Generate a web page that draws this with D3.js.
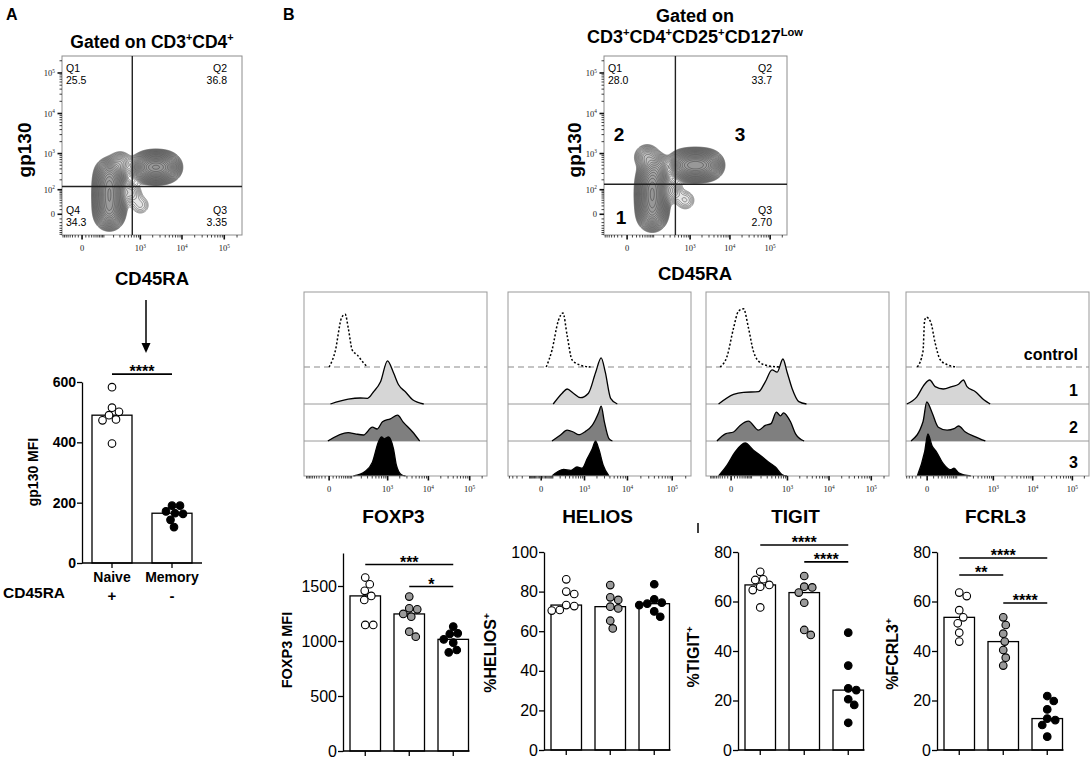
<!DOCTYPE html>
<html>
<head>
<meta charset="utf-8">
<script src="https://cdn.jsdelivr.net/npm/d3@7"></script>
<style>
  body { margin: 0; background: #fff; }
  svg { display: block; font-family: 'Liberation Sans', Arial, sans-serif; }
</style>
</head>
<body>
<svg id="chart" width="1092" height="764"></svg>
<script>
// ---------- values ----------

// panel A: gp130 MFI per donor
const gpNaive = [583, 515, 501, 490, 476, 473, 396];
const gpMemory = [190, 190, 171, 165, 163, 143, 119];

// panel B dot plots, Treg subsets 1, 2, 3
const foxp3Mfi = [
  [1577, 1516, 1456, 1410, 1373, 1146, 1146],
  [1404, 1297, 1288, 1246, 1221, 1085, 1039],
  [1131, 1070, 1064, 1015, 985, 918, 897],
];
const heliosPct = [
  [86.2, 80, 78.8, 73.2, 72.7, 70.7, 70.4],
  [83.3, 77.1, 75.8, 72.4, 71.5, 65.3, 61.4],
  [83.7, 76.1, 74.4, 73.9, 73.2, 70, 67.3],
];
const tigitPct = [
  [72, 69, 68.7, 66.7, 66, 64.6, 57.6],
  [70.3, 66, 65.7, 63.6, 59.5, 48.5, 46.5],
  [47.4, 34.1, 24.9, 24.2, 20.5, 18.2, 11],
];
const fcrl3Pct = [
  [63.6, 62.2, 56.5, 53.6, 51.2, 47.4, 43.8],
  [53.6, 50.5, 47, 43.8, 40.4, 37.3, 34.1],
  [21.8, 19.8, 16.4, 12.7, 12.1, 10.1, 5.4],
];

// significance bars: [from group, to group, label, height in axis units]
const sigA = [[0, 1, '****', 626]];
const sigFoxp3 = [[0, 2, '***', 1695], [1, 2, '*', 1495]];
const sigTigit = [[0, 2, '****', 82.8], [1, 2, '****', 76]];
const sigFcrl3 = [[0, 2, '****', 77.6], [0, 1, '**', 70.7], [1, 2, '****', 59.4]];

// contour plots: population anchor points [CD45RA, gp130, weight]
const popsA = [
  [150, 327, 1.5], [150, 182, 2.6], [150, 96, 3], [150, 44, 3], [150, 13, 2.6], [150, -4, 1.6],
  [1190, 443, 1], [1580, 443, 1.8], [2090, 443, 2.3], [2750, 443, 2.3], [3640, 443, 1.8], [4800, 443, 1],
  [308, 565, 0.5], [560, 82, 0.35], [1003, 22, 0.2],
];
const popsB = [
  [90, 271, 1.6], [90, 148, 2.8], [90, 76, 3.2], [90, 32, 3], [90, 6, 2], [90, -8, 1],
  [562, 502, 1], [803, 502, 1.7], [1150, 502, 2.1], [1625, 502, 2.1], [2320, 502, 1.7], [3280, 502, 1],
  [60, 808, 0.6], [129, 443, 0.9], [303, 96, 0.4], [756, 40, 0.2],
];
const gatesA = [630, 126];
const gatesB = [415, 148];
const quadA = ['25.5', '36.8', '3.35', '34.3'];
const quadB = ['28.0', '33.7', '2.70'];

// histograms: [fluorescence, relative count], rows control, 1, 2, 3
const histFoxp3 = [
  [[0, 0], [16, 26], [40, 82], [58, 88], [76, 65], [105, 28], [152, 20], [230, 7], [300, 0]],
  [[3, 0], [76, 8], [186, 10], [300, 9.5], [430, 20], [660, 37], [990, 72], [1400, 52], [1870, 32], [2780, 20], [4140, 7], [7700, 0]],
  [[-3, 0], [76, 14], [130, 12], [230, 10], [405, 23], [540, 20], [740, 32], [1170, 37], [1770, 43], [2400, 32], [4140, 15], [6130, 0]],
  [[114, 0], [260, 8], [405, 23], [585, 57], [700, 65], [830, 62], [1050, 65], [1400, 45], [1650, 18], [2200, 2], [2780, 0]],
];
const histHelios = [
  [[36, 0], [90, 28], [171, 77], [250, 90], [338, 53], [470, 12], [790, 3], [1400, 0]],
  [[104, 0], [235, 18], [338, 25], [512, 18], [790, 10.5], [1250, 18], [1850, 52], [2510, 77], [3130, 53], [4150, 9.5], [5900, 0]],
  [[90, 0], [200, 9.5], [338, 18], [512, 15], [710, 10.5], [1060, 16], [1540, 26], [2210, 48], [2510, 58], [2980, 32], [3800, 4], [4560, 0]],
  [[90, 0], [262, 11], [430, 9.5], [640, 15], [870, 13], [1170, 29], [1540, 45], [1850, 58], [2210, 45], [2800, 18], [3800, 0]],
];
const histTigit = [
  [[-40, 0], [-12, 18], [7, 65], [24, 93], [47, 97], [77, 65], [116, 26], [192, 7], [320, 2], [660, 0]],
  [[-48, 0], [7, 16], [47, 19.5], [168, 20.5], [265, 37], [405, 57], [550, 53], [770, 75], [980, 53], [1300, 26], [1900, 4], [2900, 0]],
  [[-57, 0], [-18, 12], [7, 15], [31, 26], [77, 33], [168, 18], [265, 26], [380, 29], [525, 48], [670, 42], [795, 47], [1190, 32], [1580, 12], [2550, 0]],
  [[-48, 0], [-12, 18], [12, 40], [56, 55], [116, 43], [215, 32], [330, 23], [495, 15], [740, 2], [980, 0]],
];
const histFcrl3 = [
  [[-17, 0], [-6, 26], [-3.5, 77], [-1, 83], [5, 75], [13, 40], [25, 12], [48, 4], [102, 0]],
  [[-50, 0], [-18, 12], [-3.5, 33], [3.5, 40], [13, 29], [34, 25], [70, 29], [114, 33], [158, 40], [200, 29], [340, 20.5], [566, 7], [830, 0]],
  [[-34, 0], [-6, 32], [-0.5, 65], [7, 48], [20, 23], [48, 18], [83, 20.5], [114, 25], [180, 15], [340, 7], [620, 0]],
  [[-17, 0], [-3.5, 40], [1, 70], [7, 51], [16, 40], [34, 20.5], [63, 10.5], [83, 13], [114, 5.5], [255, 0]],
];
const rowLabels = ['control', '1', '2', '3'];
const markers = ['FOXP3', 'HELIOS', 'TIGIT', 'FCRL3'];

// ---------- drawing ----------
const svg = d3.select('#chart');
const FONT = "'Liberation Sans', Arial, sans-serif";
const TOP_VALUE = 262144;

// text with superscript parts written as '^x'
function rich(text, parts) {
  const fs = parseFloat(text.attr('font-size'));
  let up = false;
  parts.forEach((p) => {
    const sup = p.startsWith('^');
    const ts = text.append('tspan').text(sup ? p.slice(1) : p);
    if (sup) {
      ts.attr('font-size', fs * 0.62);
      if (!up) { ts.attr('dy', -fs * 0.38); up = true; }
    } else if (up) {
      ts.attr('dy', fs * 0.38); up = false;
    }
  });
  return text;
}

function label(x, y, parts, size, opts = {}) {
  const t = svg.append('text')
    .attr('x', x).attr('y', y)
    .attr('font-size', size)
    .attr('font-family', FONT)
    .attr('font-weight', opts.weight || 'bold')
    .attr('text-anchor', opts.anchor || 'middle');
  if (opts.rotate) t.attr('transform', `rotate(-90,${x},${y})`);
  return rich(t, parts);
}

// FlowJo style ticks: every k*10^e inside the domain
function flowTicks(scale) {
  const [lo, hi] = scale.domain();
  const out = [];
  for (let e = 1; e <= 5; e += 1) {
    for (let k = 1; k <= 9; k += 1) {
      const v = k * 10 ** e;
      if (v < hi) out.push(v);
      if (-v > lo) out.push(-v);
    }
  }
  return out;
}

function flowAxis(scale, orient, pos, majors) {
  const g = svg.append('g').attr('stroke', '#111');
  const mark = (v, len, w) => {
    const p = scale(v);
    if (orient === 'bottom') {
      g.append('line').attr('x1', p).attr('x2', p).attr('y1', pos).attr('y2', pos + len).attr('stroke-width', w);
    } else {
      g.append('line').attr('y1', p).attr('y2', p).attr('x1', pos).attr('x2', pos - len).attr('stroke-width', w);
    }
  };
  flowTicks(scale).filter((v) => !majors.includes(v)).forEach((v) => mark(v, 2.5, 0.8));
  majors.forEach((v) => mark(v, 4.5, 1.6));
  majors.forEach((v) => {
    const p = scale(v);
    const t = svg.append('text')
      .attr('font-family', "'Liberation Serif', serif")
      .attr('font-size', 8.5)
      .attr('fill', '#222');
    if (orient === 'bottom') t.attr('x', p).attr('y', pos + 16).attr('text-anchor', 'middle');
    else t.attr('x', pos - 7).attr('y', p + 3).attr('text-anchor', 'end');
    if (v === 0) t.text('0');
    else rich(t, ['10', `^${Math.round(Math.log10(v))}`]);
  });
}

// smooth the anchor points on a pixel grid so d3.contours can trace them
function densityGrid(points, sx, sy, o, sigma) {
  const grid = new Float64Array(o.w * o.h);
  points.forEach(([vx, vy, wt]) => {
    const px = sx(vx) - o.x;
    const py = sy(vy) - o.y;
    for (let j = 0; j < o.h; j += 1) {
      const dy = j + 0.5 - py;
      for (let i = 0; i < o.w; i += 1) {
        const dx = i + 0.5 - px;
        grid[j * o.w + i] += wt * Math.exp(-(dx * dx + dy * dy) / (2 * sigma * sigma));
      }
    }
  });
  return grid;
}

// contour dot plot (CD45RA vs gp130)
function contourPlot(o) {
  const sx = d3.scaleSymlog().constant(o.cx).domain([o.xmin, TOP_VALUE]).range([o.x, o.x + o.w]);
  const sy = d3.scaleSymlog().constant(o.cy).domain([o.ymin, TOP_VALUE]).range([o.y + o.h, o.y]);

  const grid = densityGrid(o.points, sx, sy, o, 6.3);
  const peak = d3.max(grid);
  const levels = d3.range(24).map((i) => peak * 0.015 * (0.95 / 0.015) ** (i / 23));
  const contours = d3.contours().size([o.w, o.h]).thresholds(levels)(grid);

  svg.append('g')
    .attr('transform', `translate(${o.x},${o.y})`)
    .selectAll('path')
    .data(contours)
    .join('path')
    .attr('d', d3.geoPath())
    .attr('fill', '#000')
    .attr('fill-opacity', 0.02)
    .attr('stroke', '#333')
    .attr('stroke-width', 0.5);

  svg.append('rect')
    .attr('x', o.x).attr('y', o.y).attr('width', o.w).attr('height', o.h)
    .attr('fill', 'none').attr('stroke', '#8c8c8c');

  svg.append('line')
    .attr('x1', sx(o.gates[0])).attr('x2', sx(o.gates[0]))
    .attr('y1', o.y).attr('y2', o.y + o.h)
    .attr('stroke', '#222').attr('stroke-width', 1.4);
  svg.append('line')
    .attr('x1', o.x).attr('x2', o.x + o.w)
    .attr('y1', sy(o.gates[1])).attr('y2', sy(o.gates[1]))
    .attr('stroke', '#222').attr('stroke-width', 1.4);

  flowAxis(sy, 'left', o.x, [0, 100, 1000, 10000, 100000]);
  flowAxis(sx, 'bottom', o.y + o.h, [0, 1000, 10000, 100000]);

  // quadrant labels Q1, Q2, Q3, Q4
  const qPos = [
    [o.x + 4, o.y + 16, 'start'], [o.x + o.w - 15, o.y + 16, 'end'],
    [o.x + o.w - 15, o.y + o.h - 21, 'end'], [o.x + 4, o.y + o.h - 21, 'start'],
  ];
  o.quads.forEach((q, i) => {
    const [qx, qy, anchor] = qPos[i];
    label(qx, qy, [`Q${i + 1}`], 10.5, { weight: 'normal', anchor });
    label(qx, qy + 12, [q], 10.5, { weight: 'normal', anchor });
  });
  return { sx, sy };
}

// bar (median) + dots chart
function swarm(ys, r) {
  const placed = [];
  return ys.map((py) => {
    let off = 0;
    for (let k = 0; k < 80; k += 1) {
      off = (k % 2 ? 1 : -1) * Math.ceil(k / 2) * 0.5;
      const test = off;
      if (placed.every((p) => (p[0] - test) ** 2 + (p[1] - py) ** 2 >= (2 * r + 0.4) ** 2)) break;
    }
    placed.push([off, py]);
    return off;
  });
}

function barPanel(o) {
  const n = o.values.length;
  const y = d3.scaleLinear().domain(o.domain).range(o.yRange);
  const x = d3.scaleBand()
    .domain(d3.range(n))
    .range([o.x0 + o.off, o.x0 + o.off + (n - 1) * o.step + o.bw])
    .paddingInner(1 - o.bw / o.step);
  const g = svg.append('g');

  g.selectAll('rect')
    .data(o.values)
    .join('rect')
    .attr('x', (d, i) => x(i))
    .attr('width', x.bandwidth())
    .attr('y', (d) => y(d3.median(d)))
    .attr('height', (d) => y(0) - y(d3.median(d)))
    .attr('fill', '#fff')
    .attr('stroke', '#000')
    .attr('stroke-width', 1.3);

  o.values.forEach((vals, i) => {
    const cx = x(i) + x.bandwidth() / 2;
    const offs = swarm(vals.map((v) => y(v)), o.r);
    g.append('g').selectAll('circle')
      .data(vals)
      .join('circle')
      .attr('cx', (d, j) => cx + offs[j])
      .attr('cy', (d) => y(d))
      .attr('r', o.r)
      .attr('fill', o.fills[i])
      .attr('stroke', '#000')
      .attr('stroke-width', 1.1);
  });

  const ya = g.append('g')
    .attr('transform', `translate(${o.x0},0)`)
    .call(d3.axisLeft(y).tickValues(o.ticks).tickFormat(d3.format('d'))
      .tickSize(5).tickSizeOuter(0).tickPadding(1));
  ya.attr('font-size', o.tickFont).attr('font-family', FONT).attr('font-weight', o.bold ? 'bold' : 'normal');
  ya.selectAll('path, line').attr('stroke-width', 1.3);

  const xa = g.append('g')
    .attr('transform', `translate(0,${y(0)})`)
    .call(d3.axisBottom(x).tickSize(5).tickFormat(''));
  xa.select('.domain').remove();
  xa.selectAll('line').attr('stroke-width', 1.3);
  g.append('line')
    .attr('x1', o.x0).attr('x2', x.range()[1] + o.endPad)
    .attr('y1', y(0)).attr('y2', y(0))
    .attr('stroke', '#000').attr('stroke-width', 1.3);

  o.sig.forEach(([a, b, txt, h]) => {
    const xa1 = x(a) + x.bandwidth() / 2;
    const xb1 = x(b) + x.bandwidth() / 2;
    g.append('line')
      .attr('x1', xa1).attr('x2', xb1).attr('y1', y(h)).attr('y2', y(h))
      .attr('stroke', '#000').attr('stroke-width', 1.6);
    label((xa1 + xb1) / 2, y(h) + 3, [txt], 16);
  });
  return { x, y };
}

// histogram overlay panel
const histTop = 292;
const rowBase = [367, 404, 441, 476];
const histW = 183;
const countScale = d3.scaleLinear().domain([0, 100]).range([0, 60]);
const rowFills = [null, '#d6d6d6', '#7f7f7f', '#000'];

function histPanel(o) {
  const sx = d3.scaleSymlog().constant(o.c).domain([o.xmin, TOP_VALUE]).range([o.left, o.left + histW]);
  const g = svg.append('g');

  g.append('line')
    .attr('x1', o.left).attr('x2', o.left + histW).attr('y1', rowBase[0]).attr('y2', rowBase[0])
    .attr('stroke', '#8a8a8a').attr('stroke-width', 1.2).attr('stroke-dasharray', '6,4');
  [rowBase[1], rowBase[2]].forEach((b) => {
    g.append('line')
      .attr('x1', o.left).attr('x2', o.left + histW).attr('y1', b).attr('y2', b)
      .attr('stroke', '#9a9a9a').attr('stroke-width', 1);
  });

  o.rows.forEach((pts, i) => {
    const base = rowBase[i];
    const line = d3.line()
      .x((d) => sx(d[0]))
      .y((d) => base - countScale(d[1]))
      .curve(d3.curveMonotoneX);
    if (i === 0) {
      g.append('path').attr('d', line(pts))
        .attr('fill', 'none').attr('stroke', '#000').attr('stroke-width', 1.5)
        .attr('stroke-dasharray', '2,2');
    } else {
      const area = d3.area()
        .x((d) => sx(d[0]))
        .y0(base)
        .y1((d) => base - countScale(d[1]))
        .curve(d3.curveMonotoneX);
      g.append('path').attr('d', area(pts)).attr('fill', rowFills[i]);
      g.append('path').attr('d', line(pts))
        .attr('fill', 'none').attr('stroke', '#000').attr('stroke-width', 1.3);
    }
  });

  g.append('rect')
    .attr('x', o.left).attr('y', histTop).attr('width', histW).attr('height', rowBase[3] - histTop)
    .attr('fill', 'none').attr('stroke', '#999');

  flowAxis(sx, 'bottom', rowBase[3], [0, 1000, 10000, 100000]);
  label(o.left + histW / 2 - 2, 523, [o.title], 19);
}

// ---------- panel A ----------
label(6, 20, ['A'], 16, { anchor: 'start' });
label(283, 20, ['B'], 16, { anchor: 'start' });

label(152, 48, ['Gated on CD3', '^+', 'CD4', '^+'], 17.5);
contourPlot({
  x: 62, y: 56, w: 180, h: 179,
  cx: 44, xmin: -87, cy: 33, ymin: -74,
  points: popsA, gates: gatesA, quads: quadA,
});
label(31, 150, ['gp130'], 19, { rotate: true });
label(152, 285, ['CD45RA'], 18.5);

// arrow
svg.append('line').attr('x1', 146).attr('x2', 146).attr('y1', 300).attr('y2', 346)
  .attr('stroke', '#000').attr('stroke-width', 1.5);
svg.append('path').attr('d', d3.line()([[141.5, 343], [150.5, 343], [146, 353]]))
  .attr('fill', '#000');

barPanel({
  values: [gpNaive, gpMemory], fills: ['#fff', '#000'],
  x0: 82, yRange: [563, 382], domain: [0, 600], ticks: [0, 200, 400, 600],
  step: 60, bw: 40, off: 10, endPad: 10, tickFont: 14, bold: true, r: 3.8, sig: sigA,
});
label(38, 472, ['gp130 MFI'], 14, { rotate: true });
label(112, 582, ['Naive'], 14);
label(172, 582, ['Memory'], 14);
label(3, 598, ['CD45RA'], 15.5, { anchor: 'start' });
label(112, 601, ['+'], 15);
label(172, 601, ['-'], 15);

// ---------- panel B ----------
label(695, 22, ['Gated on'], 18);
label(695, 43, ['CD3', '^+', 'CD4', '^+', 'CD25', '^+', 'CD127', '^Low'], 18);
contourPlot({
  x: 604, y: 56, w: 183, h: 179,
  cx: 28, xmin: -77, cy: 33, ymin: -74,
  points: popsB, gates: gatesB, quads: quadB,
});
label(581, 150, ['gp130'], 19, { rotate: true });
label(695, 280, ['CD45RA'], 18.5);
label(619, 141, ['2'], 19);
label(740, 141, ['3'], 19);
label(621, 224, ['1'], 19);

const histLefts = [304, 508, 706, 906];
const histScales = [[40, -122], [122, -546], [49, -143], [22, -53]];
[histFoxp3, histHelios, histTigit, histFcrl3].forEach((rows, i) => {
  histPanel({
    left: histLefts[i], c: histScales[i][0], xmin: histScales[i][1], rows, title: markers[i],
  });
});
const rowLabelY = [360, 396, 433, 468];
rowLabels.forEach((t, i) => label(1078, rowLabelY[i], [t], 16, { anchor: 'end' }));

// stray mark next to the TIGIT chart
svg.append('line').attr('x1', 698).attr('x2', 698).attr('y1', 523).attr('y2', 533)
  .attr('stroke', '#000').attr('stroke-width', 1.5);

const groupFills = ['#fff', '#9a9a9a', '#000'];
const bottomPanels = [
  { values: foxp3Mfi, x0: 343, yRange: [751, 553], domain: [0, 1800], ticks: [0, 500, 1000, 1500], sig: sigFoxp3 },
  { values: heliosPct, x0: 544, yRange: [750, 552], domain: [0, 100], ticks: [0, 20, 40, 60, 80, 100], sig: [] },
  { values: tigitPct, x0: 738, yRange: [750, 552], domain: [0, 80], ticks: [0, 20, 40, 60, 80], sig: sigTigit },
  { values: fcrl3Pct, x0: 937, yRange: [750, 552], domain: [0, 80], ticks: [0, 20, 40, 60, 80], sig: sigFcrl3 },
];
bottomPanels.forEach((p) => barPanel({
  ...p, fills: groupFills, step: 44, bw: 30.5, off: 7, endPad: 1, tickFont: 16, bold: false, r: 3.8,
}));
label(292, 650, ['FOXP3 MFI'], 14.5, { rotate: true });
label(496, 653, ['%HELIOS', '^+'], 16, { rotate: true });
label(699, 657, ['%TIGIT', '^+'], 16, { rotate: true });
label(898, 654, ['%FCRL3', '^+'], 16, { rotate: true });
</script>
</body>
</html>
